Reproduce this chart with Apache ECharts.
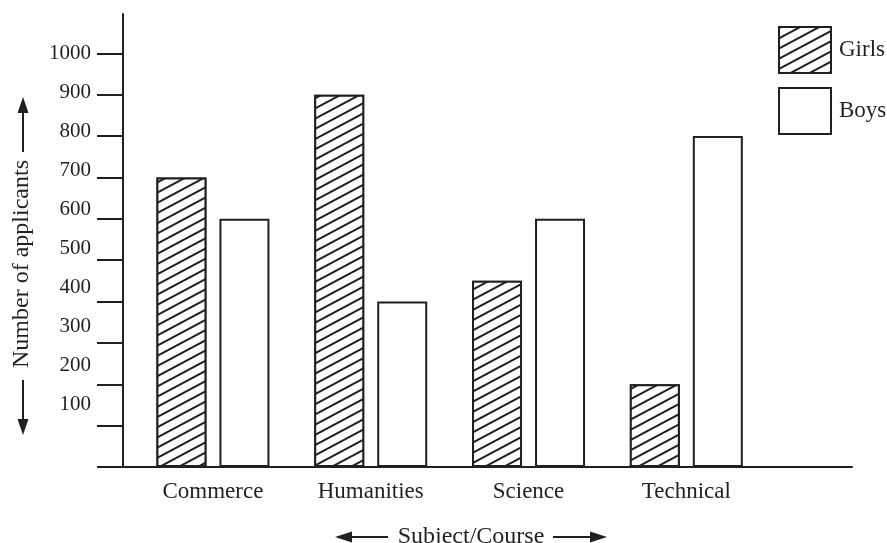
<!DOCTYPE html>
<html lang="en">
<head>
  <meta charset="UTF-8">
  <title>applicants</title>
  <script src="https://cdn.jsdelivr.net/npm/echarts@6/dist/echarts.min.js"></script>
  <style>
    html, body { margin: 0; padding: 0; background: #fff; }
    #main { width: 887px; height: 543px; }
  </style>
</head>
<body>
<div id="main"></div>
<script>
  // data
  var categories = ['Commerce', 'Humanities', 'Science', 'Technical'];
  var girls = [700, 900, 450, 200];
  var boys = [600, 400, 600, 800];
  var yTicks = [100, 200, 300, 400, 500, 600, 700, 800, 900, 1000];
  var catPos = [1, 2, 3, 4];

  var ink = '#231f20';
  var serif = '"Liberation Serif", "DejaVu Serif", serif';

  var myChart = echarts.init(document.getElementById('main'));

  function pairs(vals) {
    return vals.map(function (v, i) { return [catPos[i], v]; });
  }

  var hatch = {
    symbol: 'rect',
    symbolSize: 1,
    color: ink,
    backgroundColor: '#fff',
    dashArrayX: [1, 0],
    dashArrayY: [1.3, 6.5],
    rotation: -0.49
  };

  myChart.setOption({
    backgroundColor: '#fff',
    animation: false,
    grid: {left: 123, right: 35, top: 14, bottom: 76},
    legend: {
      orient: 'vertical',
      left: 778,
      top: 26,
      padding: 0,
      itemWidth: 52,
      itemHeight: 46,
      itemGap: 13,
      icon: 'rect',
      textStyle: {fontFamily: serif, fontSize: 23, color: ink, padding: [0, 0, 0, 3]},
      data: ['Girls', 'Boys']
    },
    xAxis: {
      type: 'value',
      min: 0.43,
      max: 5.05,
      axisLine: {onZero: false, lineStyle: {color: ink, width: 2}},
      axisTick: {show: false},
      splitLine: {show: false},
      axisLabel: {
        customValues: catPos,
        margin: 13,
        fontFamily: serif,
        fontSize: 23,
        color: ink,
        formatter: function (v) { return categories[Math.round(v) - 1] || ''; }
      }
    },
    yAxis: [
      {
        type: 'value',
        position: 'left',
        min: 0,
        max: 1095,
        interval: 100,
        axisLine: {show: true, onZero: false, lineStyle: {color: ink, width: 2}},
        axisTick: {show: true, length: 26, customValues: [0].concat(yTicks), lineStyle: {color: ink, width: 2}},
        axisLabel: {show: false},
        splitLine: {show: false}
      },
      {
        // labels only: the printed labels sit a little off the ticks
        type: 'value',
        position: 'left',
        min: -61.5,
        max: 1100,
        axisLine: {show: false},
        axisTick: {show: false},
        splitLine: {show: false},
        axisLabel: {
          customValues: yTicks,
          margin: 32,
          fontFamily: serif,
          fontSize: 21,
          color: ink,
          formatter: function (v) { return String(v); }
        }
      }
    ],
    series: [
      {
        name: 'Girls',
        type: 'bar',
        data: pairs(girls),
        barWidth: 50,
        barGap: '26%',
        itemStyle: {color: '#fff', borderColor: ink, borderWidth: 2, decal: hatch}
      },
      {
        name: 'Boys',
        type: 'bar',
        data: pairs(boys),
        barWidth: 50,
        barGap: '26%',
        itemStyle: {color: '#fff', borderColor: ink, borderWidth: 2}
      }
    ],
    graphic: {
      elements: [
        {
          type: 'text', x: 22, y: 264, rotation: Math.PI / 2,
          style: {text: 'Number of applicants', font: '24px ' + serif, fill: ink, align: 'center', verticalAlign: 'middle'}
        },
        {type: 'line', shape: {x1: 23, y1: 110, x2: 23, y2: 152}, style: {stroke: ink, lineWidth: 2}},
        {type: 'polygon', shape: {points: [[23, 97], [17.5, 113], [28.5, 113]]}, style: {fill: ink}},
        {type: 'line', shape: {x1: 23, y1: 380, x2: 23, y2: 422}, style: {stroke: ink, lineWidth: 2}},
        {type: 'polygon', shape: {points: [[23, 435], [17.5, 419], [28.5, 419]]}, style: {fill: ink}},
        {
          type: 'text', x: 471, y: 537,
          style: {text: 'Subject/Course', font: '24px ' + serif, fill: ink, align: 'center', verticalAlign: 'middle'}
        },
        {type: 'line', shape: {x1: 348, y1: 537, x2: 388, y2: 537}, style: {stroke: ink, lineWidth: 2}},
        {type: 'polygon', shape: {points: [[335, 537], [352, 531.5], [352, 542.5]]}, style: {fill: ink}},
        {type: 'line', shape: {x1: 553, y1: 537, x2: 594, y2: 537}, style: {stroke: ink, lineWidth: 2}},
        {type: 'polygon', shape: {points: [[607, 537], [590, 531.5], [590, 542.5]]}, style: {fill: ink}}
      ]
    }
  });
</script>
</body>
</html>
